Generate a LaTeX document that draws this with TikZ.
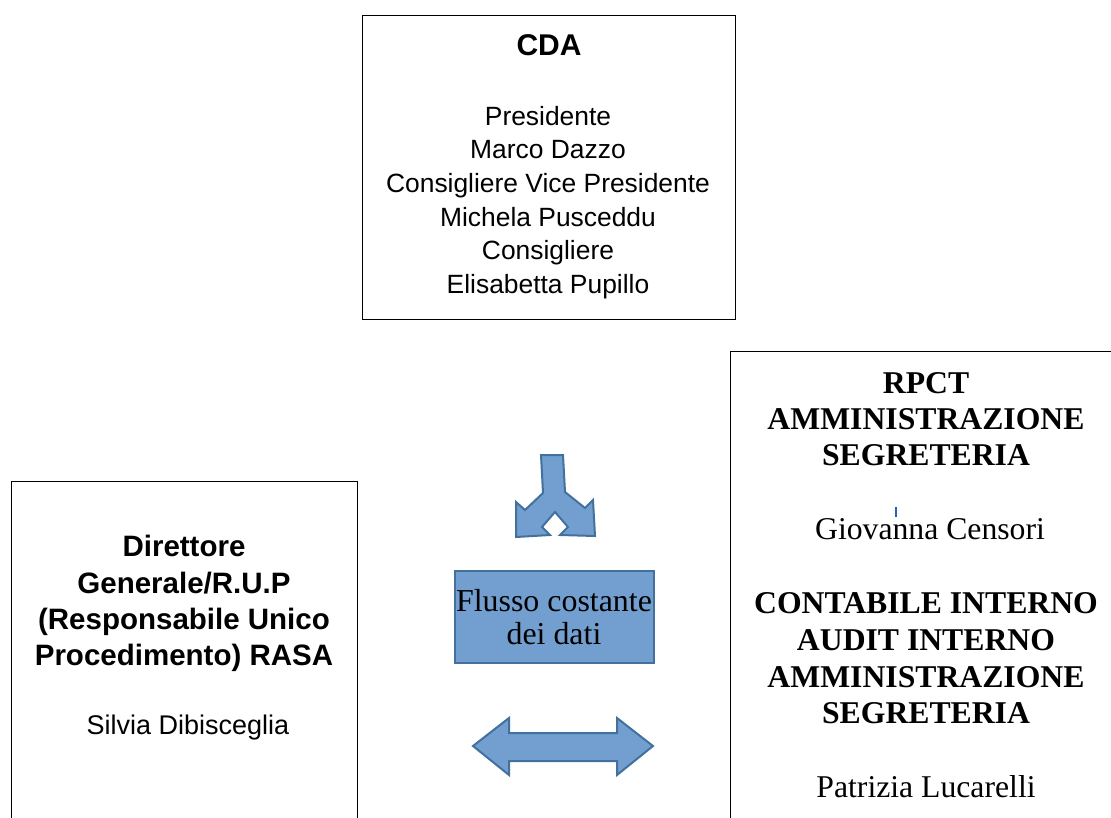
\documentclass[tikz,border=0pt]{standalone}
\usepackage{fontspec}
\setmainfont{Liberation Serif}
\newfontfamily\arialfont{Liberation Sans}
\definecolor{flowfill}{RGB}{114,159,207}
\definecolor{flowdraw}{RGB}{65,113,156}
\definecolor{cursorblue}{RGB}{47,92,190}
\begin{document}
\begin{tikzpicture}[x=1pt,y=-1pt,
  orgbox/.style={draw=black, line width=1.2pt, inner sep=0pt, anchor=north west},
  shapeblue/.style={fill=flowfill, draw=flowdraw, line width=2pt, line join=miter},
  txt/.style={inner sep=0pt, align=center}]
\useasboundingbox (0,0) rectangle (1111,818);
\fill[white] (0,0) rectangle (1111,818);
\clip (0,0) rectangle (1111,818);

% boxes
\node[orgbox, minimum width=373pt, minimum height=304pt] (cda) at (362,15) {};
\node[orgbox, minimum width=346pt, minimum height=360pt] (dir) at (11,481) {};
\node[orgbox, minimum width=400pt, minimum height=480pt] (rpct) at (730,351) {};

% flow box
\node[shapeblue, inner sep=0pt, anchor=north west, minimum width=199pt, minimum height=92pt] (flusso) at (454,570) {};

% split arrow
\draw[shapeblue] (541,455) -- (563,455) -- (565,492) -- (585,508) -- (593,500) -- (595,536)
  -- (560,535) -- (568,527) -- (555,512) -- (542,527) -- (550,535) -- (516,537)
  -- (516,502) -- (525,510) -- (543,493) -- cycle;

% double arrow
\draw[shapeblue] (473,746) -- (509,718) -- (509,733) -- (617,733) -- (617,718) -- (653,746)
  -- (617,775) -- (617,761) -- (509,761) -- (509,775) -- cycle;

% CDA texts
\node[txt, anchor=base, font={\arialfont\bfseries\fontsize{30}{34}\selectfont}] (cdatitle) at (549,56) {CDA};
\node[txt, anchor=north, font={\arialfont\fontsize{26.4}{33.6}\selectfont}] (cdanames) at (548,101.5)
  {\strut Presidente\\Marco Dazzo\\Consigliere Vice Presidente\\Michela Pusceddu\\Consigliere\\Elisabetta Pupillo};

% Direttore texts
\node[txt, anchor=north, font={\arialfont\bfseries\fontsize{29.5}{36.3}\selectfont}] (dirtitle) at (184,531.1)
  {\strut Direttore\\Generale/R.U.P\\(Responsabile Unico\\Procedimento) RASA};
\node[txt, anchor=base, font={\arialfont\fontsize{27}{33}\selectfont}] (dirname) at (188,734) {Silvia Dibisceglia};

% RPCT texts
\node[txt, anchor=north, font={\bfseries\fontsize{31.7}{36}\selectfont}] (rpcttitle) at (926,368.3)
  {\strut RPCT\\AMMINISTRAZIONE\\SEGRETERIA};
\coordinate (markt) at (896,507);
\coordinate (markb) at (896,517);
\draw[cursorblue, line width=1.8pt] (markt) -- (markb);
\node[txt, anchor=base, font={\fontsize{31.7}{36}\selectfont}] (rpctname) at (930,539) {Giovanna Censori};
\node[txt, anchor=north, font={\bfseries\fontsize{31.7}{36.7}\selectfont}] (conttitle) at (926,587.8)
  {\strut CONTABILE INTERNO\\AUDIT INTERNO\\AMMINISTRAZIONE\\SEGRETERIA};
\node[txt, anchor=base, font={\fontsize{31.7}{36}\selectfont}] (contname) at (926,797.5) {Patrizia Lucarelli};

% flow text
\node[txt, anchor=north, font={\fontsize{31.9}{33}\selectfont}] (flussotext) at (554,588.4)
  {\strut Flusso costante\\dei dati};
\end{tikzpicture}
\end{document}
